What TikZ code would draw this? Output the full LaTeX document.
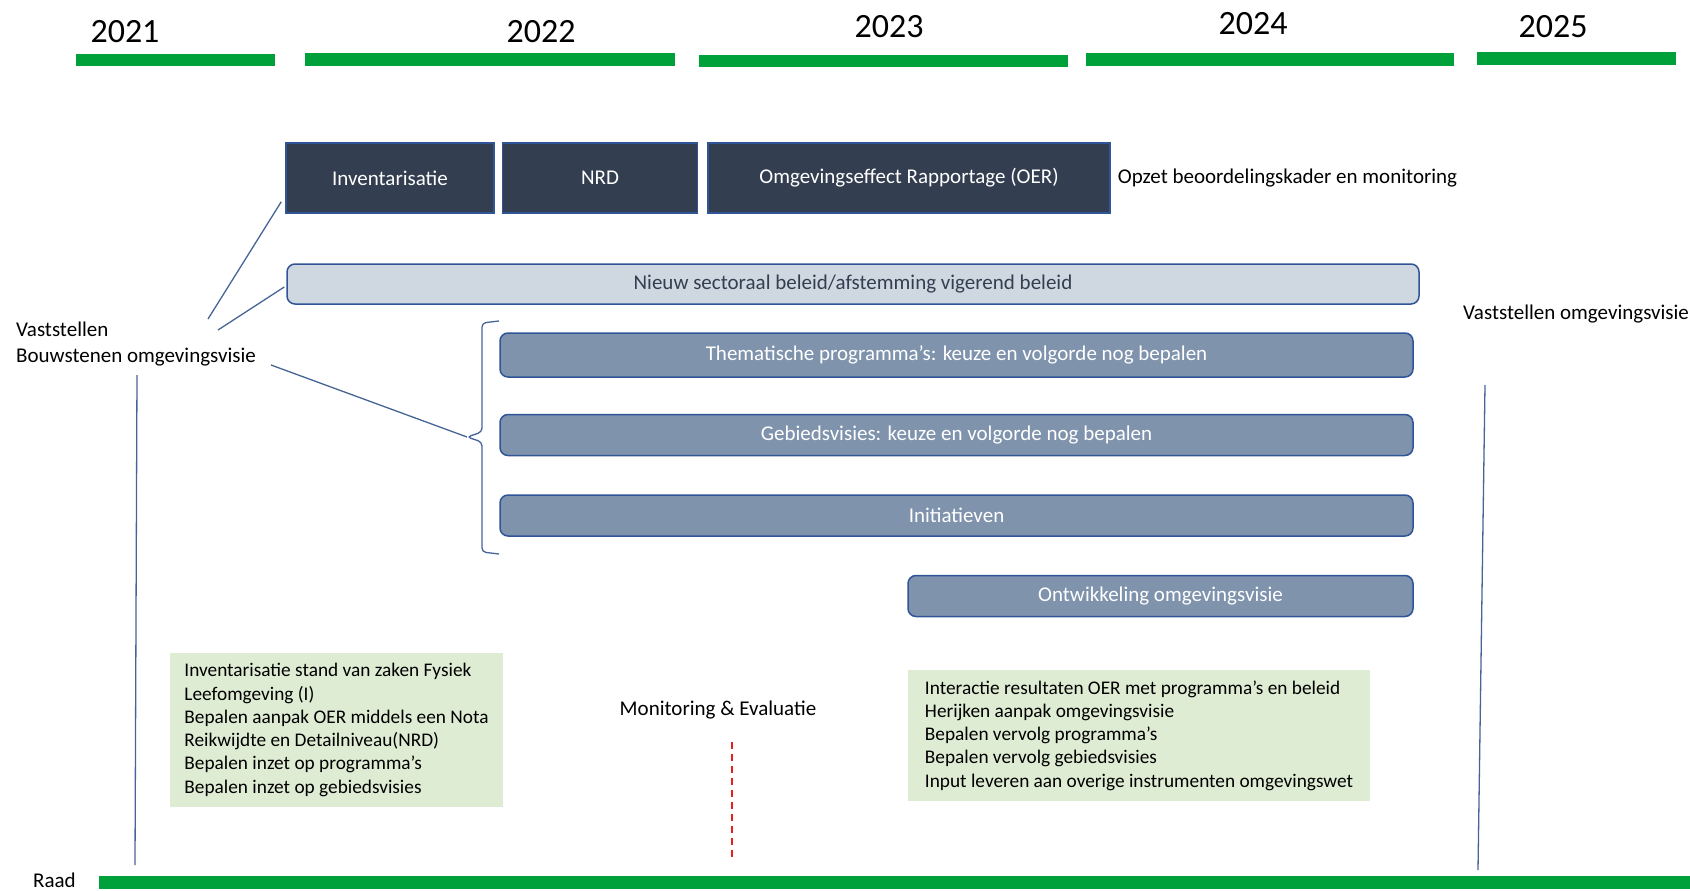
\documentclass[tikz,border=0pt]{standalone}
\usepackage{fontspec}
\setmainfont{Carlito}
\usepackage{tikz}
\usetikzlibrary{positioning}

\definecolor{balkgroen}{RGB}{0,160,58}
\definecolor{donker}{RGB}{51,63,80}
\definecolor{randblauw}{RGB}{47,85,151}
\definecolor{lichtgrijs}{RGB}{207,215,225}
\definecolor{middengrijs}{RGB}{127,147,173}
\definecolor{lichtgroen}{RGB}{223,236,212}
\definecolor{lijnblauw}{RGB}{70,100,150}
\definecolor{rood}{RGB}{230,30,30}

\begin{document}
\begin{tikzpicture}[
    x=1pt, y=-1pt,
    font=\fontsize{21}{23.3}\selectfont,
    darkbox/.style={rectangle, draw=randblauw, line width=1.5pt, fill=donker, text=white, minimum height=70pt},
    lightbar/.style={rectangle, rounded corners=8pt, draw=randblauw, line width=1.5pt, fill=lichtgrijs, text=donker, minimum height=40pt},
    midbar/.style={rectangle, rounded corners=8pt, draw=randblauw, line width=1.5pt, fill=middengrijs, text=white, minimum height=41pt},
    notebox/.style={rectangle, fill=lichtgroen, align=left, inner sep=0pt, font=\fontsize{19.3}{23.3}\selectfont},
    txt/.style={inner sep=0pt},
    year/.style={inner sep=0pt, font=\fontsize{34}{40}\selectfont},
    link/.style={draw=lijnblauw, line width=1.3pt}
]
    \useasboundingbox (0,0) rectangle (1690,891);

    % tijdlijn boven
    \foreach \jaar/\xm/\ym in {2021/125/32, 2022/541/32, 2023/889/27, 2024/1253/24, 2025/1553/27}
        \node[year] (j\jaar) at (\xm,\ym) {\jaar};
    \foreach \xa/\xb/\ya/\yb in {76/275/54/66, 305/675/53/66, 699/1068/55/67, 1086/1454/53/66, 1477/1676/52/65}
        \fill[balkgroen] (\xa,\ya) rectangle (\xb,\yb);

    \node[darkbox, minimum width=208pt] (inv) at (390,178) {Inventarisatie};
    \node[darkbox, minimum width=195pt, right=7pt of inv] (nrd) {NRD};
    \node[darkbox, minimum width=402pt, right=9pt of nrd] (oer) {Omgevingseffect Rapportage (OER)};
    \node[txt, right=7pt of oer] (opzet) {Opzet beoordelingskader en monitoring};

    \node[lightbar, minimum width=1132pt] (beleid) at (853,284) {Nieuw sectoraal beleid/afstemming vigerend beleid};

    \node[midbar, minimum width=913pt, minimum height=44pt] (them) at (956.5,355) {Thematische programma’s: keuze en volgorde nog bepalen};
    \node[midbar, minimum width=913pt, below=36pt of them] (gebied) {Gebiedsvisies: keuze en volgorde nog bepalen};
    \node[midbar, minimum width=913pt, below=38pt of gebied] (init) {Initiatieven};
    \node[midbar, minimum width=505pt, below=38pt of init.south east, anchor=north east] (ontw) {Ontwikkeling omgevingsvisie};

    % accolade
    \coordinate (haak) at (467,437);
    \draw[link, rounded corners=4pt] (499,321) -- (482,323) -- (482,432) -- (haak) -- (482,442) -- (482,552) -- (499,554);

    \node[txt, anchor=base west] (vast) at (16,336) {Vaststellen};
    \node[txt, anchor=base west] (bouw) at (16,362) {Bouwstenen omgevingsvisie};
    \node[txt, anchor=base west] (vastov) at (1463,319) {Vaststellen omgevingsvisie};

    \coordinate (v1) at (208,319);
    \coordinate (v2) at (218,330);
    \coordinate (v3) at (271,365);
    \draw[link] (v1) -- ([shift={(-4,-12)}]inv.south west);
    \draw[link] (v2) -- ([shift={(-2,3)}]beleid.west);
    \draw[link] (v3) -- (haak);

    % raadsmomenten
    \coordinate (raadL1) at (137,375);
    \coordinate (raadL2) at (135,865);
    \coordinate (raadR1) at (1485,385);
    \coordinate (raadR2) at (1478,870);
    \draw[link] (raadL1) -- (raadL2);
    \draw[link] (raadR1) -- (raadR2);

    \node[notebox, minimum width=333pt, minimum height=154pt] (noteL) at (336.5,730) {Inventarisatie stand van zaken Fysiek\\Leefomgeving (I)\\Bepalen aanpak OER middels een Nota\\Reikwijdte en Detailniveau(NRD)\\Bepalen inzet op programma’s\\Bepalen inzet op gebiedsvisies};
    \node[notebox, minimum width=462pt, minimum height=131pt] (noteR) at (1139,735.5) {Interactie resultaten OER met programma’s en beleid\\Herijken aanpak omgevingsvisie\\Bepalen vervolg programma’s\\Bepalen vervolg gebiedsvisies\\Input leveren aan overige instrumenten omgevingswet};

    \node[txt] (mon) at (718,710) {Monitoring \& Evaluatie};
    \coordinate (m1) at (732,742);
    \coordinate (m2) at (732,858);
    \draw[rood, line width=1.5pt, dash pattern=on 7pt off 5pt] (m1) -- (m2);

    \node[txt, anchor=base west] (raad) at (33,887) {Raad};
    \fill[balkgroen] (99,876) rectangle (1690,889);
\end{tikzpicture}
\end{document}
